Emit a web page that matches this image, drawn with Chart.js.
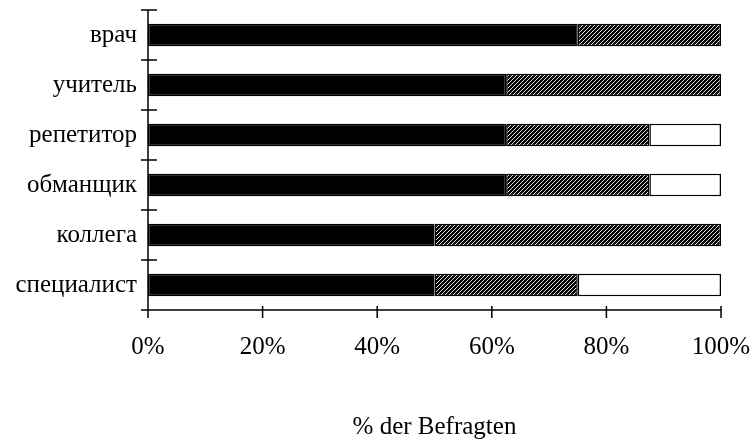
<!DOCTYPE html>
<html>
<head>
<meta charset="utf-8">
<script src="https://cdn.jsdelivr.net/npm/chart.js@4"></script>
<style>
  html, body { margin: 0; padding: 0; background: #fff; }
  #wrap { width: 753px; height: 448px; }
</style>
</head>
<body>
<div id="wrap"><canvas id="chart" width="753" height="448"></canvas></div>
<script>
const categories = ['врач', 'учитель', 'репетитор', 'обманщик', 'коллега', 'специалист'];
const blackValues = [75, 62.5, 62.5, 62.5, 50, 50];
const hatchedValues = [25, 37.5, 25, 25, 50, 25];
const whiteValues = [0, 0, 12.5, 12.5, 0, 25];
const xTicks = [0, 20, 40, 60, 80, 100];
const axisTitle = '% der Befragten';

// diagonal hatch, dark with thin white slashes
function makeHatch() {
    const c = document.createElement('canvas');
    c.width = 4; c.height = 4;
    const g = c.getContext('2d');
    g.fillStyle = '#000';
    g.fillRect(0, 0, 4, 4);
    g.strokeStyle = '#fff';
    g.lineWidth = 0.9;
    g.beginPath();
    g.moveTo(-1, 5); g.lineTo(5, -1);
    g.moveTo(-1, 1); g.lineTo(1, -1);
    g.moveTo(3, 5); g.lineTo(5, 3);
    g.stroke();
    return g.createPattern(c, 'repeat');
}
const hatch = makeHatch();

const serif = { family: '"Liberation Serif", "Times New Roman", serif', size: 25 };

// axis lines with ticks crossing them, like the original
const axesPlugin = {
    id: 'crossAxes',
    afterDatasetsDraw(chart) {
        const { ctx, scales: { x, y } } = chart;
        const x0 = x.getPixelForValue(0);
        const yb = y.bottom;
        ctx.save();
        ctx.strokeStyle = '#000';
        ctx.lineWidth = 1.5;
        ctx.beginPath();
        ctx.moveTo(x0, y.top);
        ctx.lineTo(x0, yb + 8);
        ctx.moveTo(x0 - 7, yb);
        ctx.lineTo(x.getPixelForValue(100), yb);
        // category boundaries
        const bounds = [y.top];
        for (let i = 1; i < categories.length; i++) {
            bounds.push((y.getPixelForValue(i - 1) + y.getPixelForValue(i)) / 2);
        }
        bounds.forEach(p => { ctx.moveTo(x0 - 7, p); ctx.lineTo(x0 + 9, p); });
        xTicks.forEach(v => {
            const p = x.getPixelForValue(v);
            ctx.moveTo(p, yb - 4);
            ctx.lineTo(p, yb + 8);
        });
        ctx.stroke();
        ctx.restore();
    }
};

const common = { borderColor: '#000', borderWidth: 1.5, borderSkipped: false, categoryPercentage: 1, barPercentage: 0.45 };

new Chart(document.getElementById('chart').getContext('2d'), {
    type: 'bar',
    data: {
        labels: categories,
        datasets: [
            Object.assign({ label: 'a', data: blackValues, backgroundColor: '#000' }, common),
            Object.assign({ label: 'b', data: hatchedValues, backgroundColor: hatch }, common),
            Object.assign({ label: 'c', data: whiteValues, backgroundColor: '#fff' }, common)
        ]
    },
    options: {
        indexAxis: 'y',
        responsive: false,
        animation: false,
        layout: { padding: { top: 10, right: 32, left: 0, bottom: 0 } },
        plugins: { legend: { display: false }, tooltip: { enabled: false } },
        scales: {
            x: {
                stacked: true,
                min: 0,
                max: 100,
                grid: { display: false, drawTicks: false },
                border: { display: false },
                afterBuildTicks: s => { s.ticks = xTicks.map(v => ({ value: v })); },
                afterFit: s => { s.height = 138; s.paddingLeft = 0; s.paddingRight = 0; },
                ticks: {
                    color: '#000',
                    font: serif,
                    padding: 22,
                    maxRotation: 0,
                    callback: v => v + '%'
                },
                title: {
                    display: true,
                    text: axisTitle,
                    color: '#000',
                    font: serif,
                    padding: { top: 0, bottom: 6 }
                }
            },
            y: {
                stacked: true,
                grid: { display: false, drawTicks: false },
                border: { display: false },
                afterFit: s => { s.width = 148; s.paddingTop = 0; s.paddingBottom = 0; },
                ticks: { color: '#000', font: serif, padding: 11 }
            }
        }
    },
    plugins: [axesPlugin]
});
</script>
</body>
</html>
